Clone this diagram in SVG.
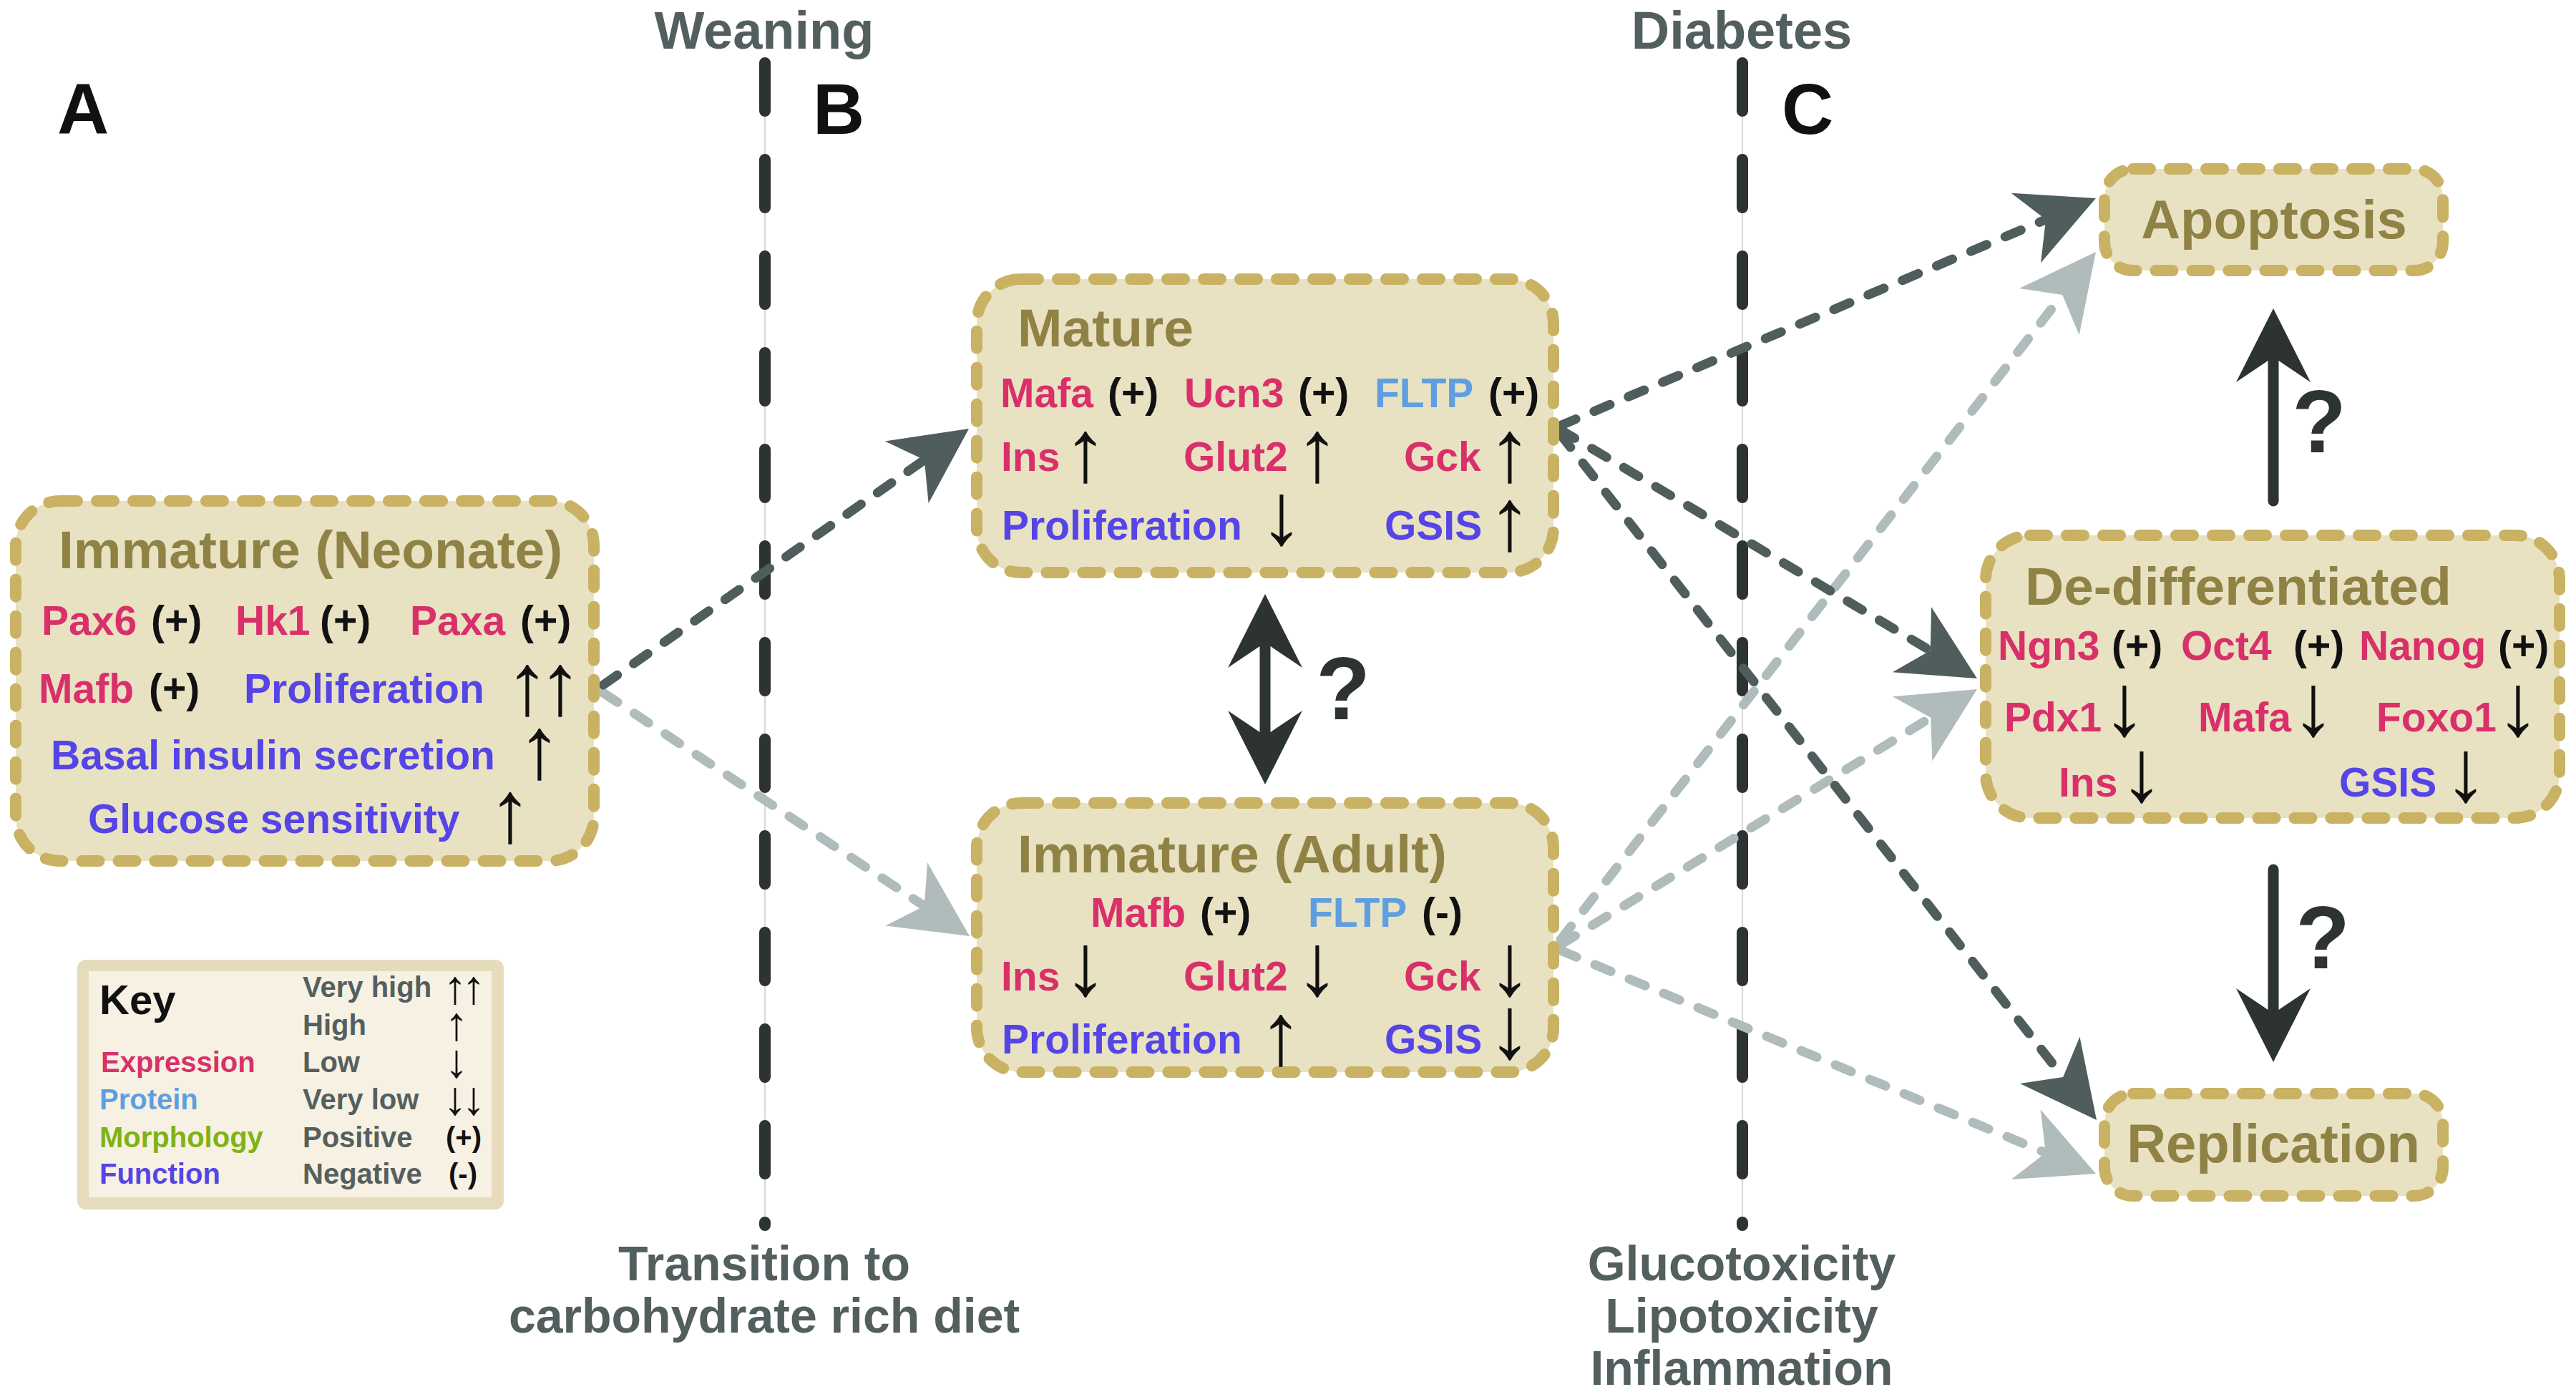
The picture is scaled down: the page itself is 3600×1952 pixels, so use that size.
<svg xmlns="http://www.w3.org/2000/svg" width="3600" height="1952" viewBox="0 0 3600 1952">
<defs>
<style>
.t{font-family:'Liberation Sans',Arial,sans-serif;font-weight:bold}
.ttl{font-size:75px;fill:#8f8244}
.r{font-size:57px}
.ar{font-size:123px;fill:#111;text-anchor:middle}
.kar{font-size:66px;fill:#111;text-anchor:middle}
.ex{fill:#d9306a}.pr{fill:#5f9fe0}.fn{fill:#5544e6}.mo{fill:#80b214}.k{fill:#111}.g{fill:#555f5f}
.a{text-anchor:middle}
.hdr{font-size:74px;fill:#525f5e;text-anchor:middle}
.note{font-size:68px;fill:#525f5e;text-anchor:middle}
.lbl{font-size:100px;fill:#111}
.q{font-size:124px;fill:#2d3333;text-anchor:middle}
.kt{font-size:40px}
.node{fill:#e8e2c3;stroke:#c9b263;stroke-width:16;stroke-dasharray:24 27;stroke-linecap:round}
.vline{fill:none;stroke:#2d3333;stroke-width:16;stroke-dasharray:67 68;stroke-linecap:round}
.hair{stroke:#c9cdcd;stroke-width:1.5}
.dk{fill:none;stroke:#4f5d5c;stroke-width:13;stroke-dasharray:24 28;stroke-linecap:round;marker-end:url(#mdk)}
.lt{fill:none;stroke:#b0bcbc;stroke-width:13;stroke-dasharray:24 28;stroke-linecap:round;marker-end:url(#mlt)}
.sol{fill:none;stroke:#2d3333;stroke-width:15;stroke-linecap:round}
</style>
<marker id="mdk" viewBox="-32 -56 110 112" refX="0" refY="0" markerWidth="110" markerHeight="112" markerUnits="userSpaceOnUse" orient="auto">
<path d="M76,0 L-30,-53 L0,0 L-30,53 Z" fill="#4f5d5c"/>
</marker>
<marker id="mlt" viewBox="-32 -56 110 112" refX="0" refY="0" markerWidth="110" markerHeight="112" markerUnits="userSpaceOnUse" orient="auto">
<path d="M76,0 L-30,-53 L0,0 L-30,53 Z" fill="#b0bcbc"/>
</marker>
<marker id="msol" viewBox="-38 -55 110 110" refX="0" refY="0" markerWidth="110" markerHeight="110" markerUnits="userSpaceOnUse" orient="auto-start-reverse">
<path d="M68,0 L-35,-52 L0,0 L-35,52 Z" fill="#2d3333"/>
</marker>
</defs>
<rect width="3600" height="1952" fill="#ffffff"/>

<g id="timeline">
<line class="hair" x1="1069" y1="80" x2="1069" y2="1717"/>
<line class="vline" x1="1069" y1="88" x2="1069" y2="1712"/>
<line class="hair" x1="2435" y1="80" x2="2435" y2="1717"/>
<line class="vline" x1="2435" y1="88" x2="2435" y2="1712"/>
<text class="t hdr" x="1068" y="68">Weaning</text>
<text class="t hdr" x="2434" y="68">Diabetes</text>
<text class="t note" x="1068" y="1789">Transition to</text>
<text class="t note" x="1068" y="1862">carbohydrate rich diet</text>
<text class="t note" x="2434" y="1789">Glucotoxicity</text>
<text class="t note" x="2434" y="1862">Lipotoxicity</text>
<text class="t note" x="2434" y="1935">Inflammation</text>
<text class="t lbl" x="80" y="187">A</text>
<text class="t lbl" x="1136" y="187">B</text>
<text class="t lbl" x="2490" y="187">C</text>
</g>

<g id="connectors">
<line class="lt" x1="843" y1="968" x2="1291.7" y2="1266.0"/>
<line class="lt" x1="2181" y1="1313" x2="2882.3" y2="412.0"/>
<line class="lt" x1="2181" y1="1320" x2="2698.2" y2="1002.7"/>
<line class="lt" x1="2181" y1="1328" x2="2858.9" y2="1610.7"/>
<line class="dk" x1="843" y1="957" x2="1291.8" y2="642.6"/>
<line class="dk" x1="2180" y1="595" x2="2859.0" y2="306.7"/>
<line class="dk" x1="2180" y1="600" x2="2697.7" y2="909.1"/>
<line class="dk" x1="2180" y1="606" x2="2883.2" y2="1505.1"/>
<line class="sol" x1="1768" y1="898" x2="1768" y2="1028" marker-start="url(#msol)" marker-end="url(#msol)" stroke-linecap="butt"/>
<line class="sol" x1="3177" y1="700" x2="3177" y2="499" marker-end="url(#msol)"/>
<line class="sol" x1="3177" y1="1215" x2="3177" y2="1416" marker-end="url(#msol)"/>
<text class="t q" x="1877" y="1005">?</text>
<text class="t q" x="3241" y="632">?</text>
<text class="t q" x="3246" y="1353">?</text>
</g>

<g id="neonate">
<rect class="node" x="22" y="700" width="808" height="503" rx="62"/>
<text class="t ttl" x="82" y="794">Immature (Neonate)</text>
<text class="t r ex" x="58" y="887">Pax6</text><text class="t r k" x="211" y="887">(+)</text>
<text class="t r ex" x="329" y="887">Hk1</text><text class="t r k" x="447" y="887">(+)</text>
<text class="t r ex" x="573" y="887">Paxa</text><text class="t r k" x="727" y="887">(+)</text>
<text class="t r ex" x="54" y="982">Mafb</text><text class="t r k" x="208" y="982">(+)</text>
<text class="t r fn" x="341" y="982">Proliferation</text><text class="t ar" y="998"><tspan x="737">↑</tspan><tspan x="783">↑</tspan></text>
<text class="t r fn" x="71" y="1075">Basal insulin secretion</text><text class="t ar" x="754" y="1087">↑</text>
<text class="t r fn" x="123" y="1164">Glucose sensitivity</text><text class="t ar" x="713" y="1176">↑</text>
</g>

<g id="mature">
<rect class="node" x="1365" y="390" width="806" height="410" rx="62"/>
<text class="t ttl" x="1422" y="484">Mature</text>
<text class="t r ex" x="1398" y="569">Mafa</text><text class="t r k" x="1548" y="569">(+)</text>
<text class="t r ex" x="1655" y="569">Ucn3</text><text class="t r k" x="1814" y="569">(+)</text>
<text class="t r pr" x="1921" y="569">FLTP</text><text class="t r k" x="2080" y="569">(+)</text>
<text class="t r ex" x="1399" y="658">Ins</text><text class="t ar" x="1517" y="672">↑</text>
<text class="t r ex" x="1654" y="658">Glut2</text><text class="t ar" x="1841" y="672">↑</text>
<text class="t r ex" x="1962" y="658">Gck</text><text class="t ar" x="2110" y="672">↑</text>
<text class="t r fn" x="1400" y="754">Proliferation</text><text class="t ar" x="1791" y="760">↓</text>
<text class="t r fn" x="1935" y="754">GSIS</text><text class="t ar" x="2110" y="768">↑</text>
</g>

<g id="adult">
<rect class="node" x="1365" y="1122" width="806" height="376" rx="62"/>
<text class="t ttl" x="1422" y="1219">Immature (Adult)</text>
<text class="t r ex" x="1524" y="1295">Mafb</text><text class="t r k" x="1677" y="1295">(+)</text>
<text class="t r pr" x="1828" y="1295">FLTP</text><text class="t r k" x="1987" y="1295">(-)</text>
<text class="t r ex" x="1399" y="1384">Ins</text><text class="t ar" x="1517" y="1390">↓</text>
<text class="t r ex" x="1654" y="1384">Glut2</text><text class="t ar" x="1841" y="1390">↓</text>
<text class="t r ex" x="1962" y="1384">Gck</text><text class="t ar" x="2110" y="1390">↓</text>
<text class="t r fn" x="1400" y="1472">Proliferation</text><text class="t ar" x="1790" y="1487">↑</text>
<text class="t r fn" x="1935" y="1472">GSIS</text><text class="t ar" x="2110" y="1478">↓</text>
</g>

<g id="dedifferentiated">
<rect class="node" x="2775" y="748" width="802" height="395" rx="62"/>
<text class="t ttl" x="2830" y="845">De-differentiated</text>
<text class="t r ex" x="2792" y="922">Ngn3</text><text class="t r k" x="2951" y="922">(+)</text>
<text class="t r ex" x="3048" y="922">Oct4</text><text class="t r k" x="3205" y="922">(+)</text>
<text class="t r ex" x="3297" y="922">Nanog</text><text class="t r k" x="3491" y="922">(+)</text>
<text class="t r ex" x="2801" y="1022">Pdx1</text><text class="t ar" x="2969" y="1027">↓</text>
<text class="t r ex" x="3072" y="1022">Mafa</text><text class="t ar" x="3233" y="1027">↓</text>
<text class="t r ex" x="3321" y="1022">Foxo1</text><text class="t ar" x="3519" y="1027">↓</text>
<text class="t r ex" x="2877" y="1113">Ins</text><text class="t ar" x="2993" y="1119">↓</text>
<text class="t r fn" x="3269" y="1113">GSIS</text><text class="t ar" x="3446" y="1119">↓</text>
</g>

<g id="apoptosis">
<rect class="node" x="2941" y="236" width="473" height="142" rx="40"/>
<text class="t ttl a" x="3178" y="333" style="font-size:76px">Apoptosis</text>
</g>

<g id="replication">
<rect class="node" x="2941" y="1528" width="473" height="143" rx="40"/>
<text class="t ttl a" x="3177" y="1624" style="font-size:76px">Replication</text>
</g>

<g id="key">
<rect x="108" y="1341" width="596" height="349" rx="12" fill="#e6dcbc"/>
<rect x="124" y="1357" width="563" height="316" fill="#f6f1e2"/>
<text class="t k" x="139" y="1417" style="font-size:58px">Key</text>
<text class="t kt ex" x="141" y="1498">Expression</text>
<text class="t kt pr" x="139" y="1550">Protein</text>
<text class="t kt mo" x="139" y="1603">Morphology</text>
<text class="t kt fn" x="139" y="1654">Function</text>
<text class="t kt g" x="423" y="1393">Very high</text>
<text class="t kt g" x="423" y="1446">High</text>
<text class="t kt g" x="423" y="1498">Low</text>
<text class="t kt g" x="423" y="1550">Very low</text>
<text class="t kt g" x="423" y="1603">Positive</text>
<text class="t kt g" x="423" y="1654">Negative</text>
<text class="t kar" y="1402"><tspan x="636">↑</tspan><tspan x="662">↑</tspan></text>
<text class="t kar" x="638" y="1453">↑</text>
<text class="t kar" x="638" y="1505">↓</text>
<text class="t kar" y="1557"><tspan x="636">↓</tspan><tspan x="662">↓</tspan></text>
<text class="t kt k a" x="648" y="1603">(+)</text>
<text class="t kt k a" x="647" y="1654">(-)</text>
</g>
</svg>
